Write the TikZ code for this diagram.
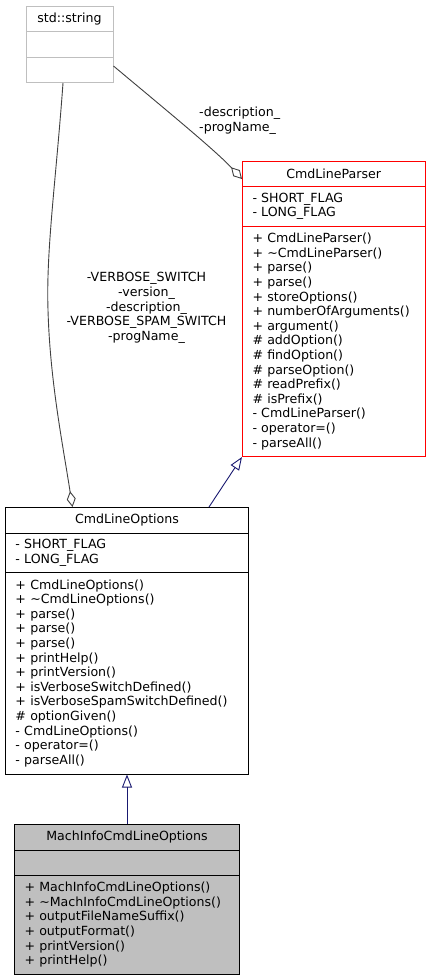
\documentclass[tikz,border=0pt]{standalone}
\usepackage{fontspec}
\setmainfont{DejaVu Sans}
\usetikzlibrary{arrows.meta}
\definecolor{edgegray}{HTML}{404040}
\definecolor{boxgray}{HTML}{BFBFBF}
\definecolor{inhblue}{HTML}{191970}
\tikzset{
  txt/.style={font=\fontsize{12.6}{14.6}\selectfont},
  comp/.style={txt, draw, line width=1pt, anchor=north west, inner ysep=0pt,
    inner xsep=10pt, minimum width=#1, text width=#1-20pt, align=left},
  ttl/.style={txt, draw, line width=1pt, anchor=north west, inner sep=0pt,
    minimum width=#1, align=center},
  aggr/.style={edgegray, line width=0.9pt, -{Diamond[open,length=16pt,width=9pt]}},
  inh/.style={inhblue, line width=0.9pt, -{Triangle[open,length=13pt,width=10pt]}},
  lbl/.style={txt, inner sep=0pt},
}
\newcommand{\tl}{\textasciitilde{}}
\begin{document}
\begin{tikzpicture}[x=1pt,y=-1pt]
\useasboundingbox (0,0) rectangle (430,980);
% std::string
\begin{scope}[every node/.append style={draw=boxgray}]
\node[ttl=87pt, minimum height=25pt] (strT) at (25.5,6) {std::string};
\node[comp=87pt, minimum height=26pt] (strA) at (25.5,31) {};
\node[comp=87pt, minimum height=25pt] (str) at (25.5,57) {};
\end{scope}
% CmdLineParser
\begin{scope}[every node/.append style={draw=red}]
\node[ttl=182.5pt, minimum height=25pt] (parser) at (242,161) {CmdLineParser};
\node[comp=182.5pt, minimum height=40pt] (parserA) at (242,186) {- SHORT\_FLAG\\- LONG\_FLAG};
\node[comp=182.5pt, minimum height=230pt] (parserO) at (242,226) {+ CmdLineParser()\\+ \tl CmdLineParser()\\+ parse()\\+ parse()\\+ storeOptions()\\+ numberOfArguments()\\+ argument()\\\# addOption()\\\# findOption()\\\# parseOption()\\\# readPrefix()\\\# isPrefix()\\- CmdLineParser()\\- operator=()\\- parseAll()};
\end{scope}
% CmdLineOptions
\node[ttl=243pt, minimum height=26pt] (opts) at (5,507) {CmdLineOptions};
\node[comp=243pt, minimum height=39pt] (optsA) at (5,533) {- SHORT\_FLAG\\- LONG\_FLAG};
\node[comp=243pt, minimum height=201.5pt] (optsO) at (5,572) {+ CmdLineOptions()\\+ \tl CmdLineOptions()\\+ parse()\\+ parse()\\+ parse()\\+ printHelp()\\+ printVersion()\\+ isVerboseSwitchDefined()\\+ isVerboseSpamSwitchDefined()\\\# optionGiven()\\- CmdLineOptions()\\- operator=()\\- parseAll()};
% MachInfoCmdLineOptions
\begin{scope}[every node/.append style={fill=boxgray}]
\node[ttl=225pt, minimum height=26pt] (mach) at (14,824) {MachInfoCmdLineOptions};
\node[comp=225pt, minimum height=25pt] (machA) at (14,850) {};
\node[comp=225pt, minimum height=98.5pt] (machO) at (14,875) {+ MachInfoCmdLineOptions()\\+ \tl MachInfoCmdLineOptions()\\+ outputFileNameSuffix()\\+ outputFormat()\\+ printVersion()\\+ printHelp()};
\end{scope}
% edges
\draw[aggr] ([yshift=-9pt]str.north east) .. controls (160,105) and (215,150) .. ([yshift=-18pt]parser.north west);
\draw[aggr] ([xshift=37.5pt]str.south west) .. controls (56,180) and (46,250) .. (48,310) .. controls (50,380) and (62,440) .. ([xshift=67.5pt]opts.north west);
\draw[inh] ([xshift=204pt]opts.north west) -- (parserO.south west);
\draw[inh] (mach.north) -- (optsO.south);
% labels
\node[lbl, anchor=west, align=left] (l1) at (199,120.5) {-description\_\\-progName\_};
\node[lbl, align=center] (l2) at (146.5,308) {-VERBOSE\_SWITCH\\-version\_\\-description\_\\-VERBOSE\_SPAM\_SWITCH\\-progName\_};
\end{tikzpicture}
\end{document}
